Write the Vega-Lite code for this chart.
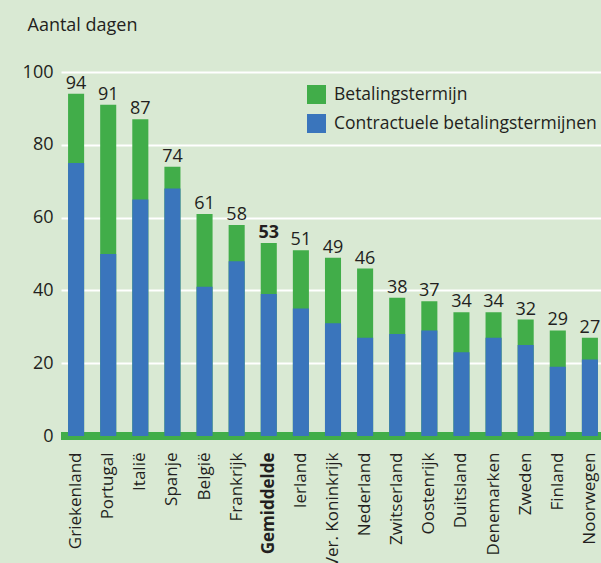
{
  "$schema": "https://vega.github.io/schema/vega-lite/v6.json",
  "width": 544,
  "height": 364,
  "autosize": "none",
  "padding": {"left": 61, "top": 72, "right": -4, "bottom": 127},
  "background": "#d9e9d3",
  "config": {
    "view": {"stroke": null},
    "font": "Open Sans",
    "text": {"color": "#231f20"}
  },
  "data": {
    "values": [
      {"land": "Griekenland", "Betalingstermijn": 94, "Contractuele betalingstermijnen": 75},
      {"land": "Portugal", "Betalingstermijn": 91, "Contractuele betalingstermijnen": 50},
      {"land": "Italië", "Betalingstermijn": 87, "Contractuele betalingstermijnen": 65},
      {"land": "Spanje", "Betalingstermijn": 74, "Contractuele betalingstermijnen": 68},
      {"land": "België", "Betalingstermijn": 61, "Contractuele betalingstermijnen": 41},
      {"land": "Frankrijk", "Betalingstermijn": 58, "Contractuele betalingstermijnen": 48},
      {"land": "Gemiddelde", "Betalingstermijn": 53, "Contractuele betalingstermijnen": 39},
      {"land": "Ierland", "Betalingstermijn": 51, "Contractuele betalingstermijnen": 35},
      {"land": "Ver. Koninkrijk", "Betalingstermijn": 49, "Contractuele betalingstermijnen": 31},
      {"land": "Nederland", "Betalingstermijn": 46, "Contractuele betalingstermijnen": 27},
      {"land": "Zwitserland", "Betalingstermijn": 38, "Contractuele betalingstermijnen": 28},
      {"land": "Oostenrijk", "Betalingstermijn": 37, "Contractuele betalingstermijnen": 29},
      {"land": "Duitsland", "Betalingstermijn": 34, "Contractuele betalingstermijnen": 23},
      {"land": "Denemarken", "Betalingstermijn": 34, "Contractuele betalingstermijnen": 27},
      {"land": "Zweden", "Betalingstermijn": 32, "Contractuele betalingstermijnen": 25},
      {"land": "Finland", "Betalingstermijn": 29, "Contractuele betalingstermijnen": 19},
      {"land": "Noorwegen", "Betalingstermijn": 27, "Contractuele betalingstermijnen": 21}
    ]
  },
  "layer": [
    {
      "mark": {"type": "rule", "color": "#41ad49", "strokeWidth": 7},
      "encoding": {"y": {"datum": 0, "type": "quantitative"}}
    },
    {
      "transform": [
        {"fold": ["Betalingstermijn", "Contractuele betalingstermijnen"], "as": ["reeks", "dagen"]}
      ],
      "mark": {"type": "bar"},
      "encoding": {
        "x": {
          "field": "land",
          "type": "nominal",
          "sort": null,
          "scale": {"paddingInner": 0.5, "paddingOuter": 0.22},
          "axis": {
            "title": null,
            "domain": false,
            "ticks": false,
            "labelAngle": -90,
            "labelAlign": "right",
            "labelBaseline": "middle",
            "labelPadding": 16,
            "labelFontSize": 17,
            "labelColor": "#231f20",
            "labelLimit": 300,
            "labelFontWeight": {"condition": {"test": "datum.value == 'Gemiddelde'", "value": "bold"}, "value": "normal"}
          }
        },
        "y": {
          "field": "dagen",
          "type": "quantitative",
          "stack": null,
          "scale": {"domain": [0, 100], "nice": false},
          "axis": {
            "title": "Aantal dagen",
            "titleAngle": 0,
            "titleX": -34,
            "titleY": -42,
            "titleAlign": "left",
            "titleBaseline": "alphabetic",
            "titleFontSize": 18,
            "titleFontWeight": "normal",
            "titleColor": "#231f20",
            "values": [0, 20, 40, 60, 80, 100],
            "domain": false,
            "ticks": false,
            "labelPadding": 8,
            "labelFontSize": 18,
            "labelColor": "#231f20",
            "grid": true,
            "gridColor": "#ffffff",
            "gridWidth": 2,
            "gridOpacity": 1
          }
        },
        "color": {
          "field": "reeks",
          "type": "nominal",
          "scale": {
            "domain": ["Betalingstermijn", "Contractuele betalingstermijnen"],
            "range": ["#41ad49", "#3a75bc"]
          },
          "legend": {
            "title": null,
            "orient": "none",
            "legendX": 246,
            "legendY": 13,
            "direction": "vertical",
            "padding": 0,
            "symbolType": "square",
            "symbolSize": 361,
            "symbolStrokeWidth": 0,
            "symbolOpacity": 1,
            "labelFontSize": 17.5,
            "labelColor": "#231f20",
            "labelOffset": 8,
            "rowPadding": 10,
            "labelLimit": 400
          }
        }
      }
    },
    {
      "transform": [{"filter": "datum.land != 'Gemiddelde'"}],
      "mark": {"type": "text", "baseline": "alphabetic", "dy": -5, "fontSize": 18},
      "encoding": {
        "x": {"field": "land", "type": "nominal", "sort": null},
        "y": {"field": "Betalingstermijn", "type": "quantitative"},
        "text": {"field": "Betalingstermijn", "type": "quantitative"}
      }
    },
    {
      "transform": [{"filter": "datum.land == 'Gemiddelde'"}],
      "mark": {"type": "text", "baseline": "alphabetic", "dy": -5, "fontSize": 18, "fontWeight": "bold"},
      "encoding": {
        "x": {"field": "land", "type": "nominal", "sort": null},
        "y": {"field": "Betalingstermijn", "type": "quantitative"},
        "text": {"field": "Betalingstermijn", "type": "quantitative"}
      }
    }
  ]
}
